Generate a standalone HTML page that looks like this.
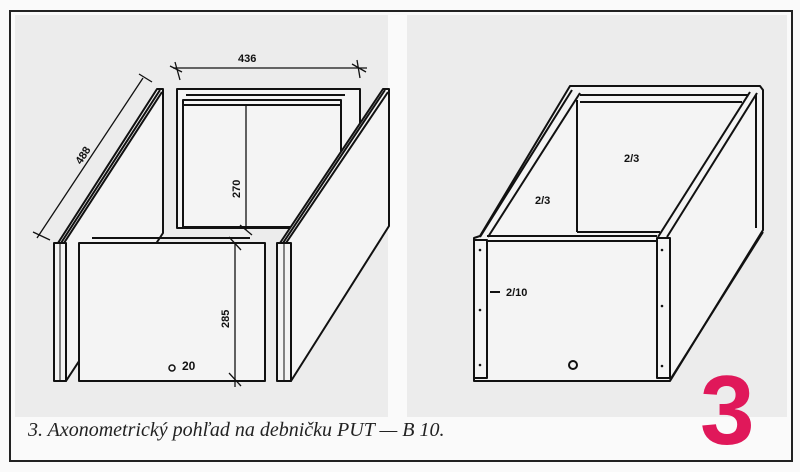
<!DOCTYPE html>
<html><head><meta charset="utf-8"><style>
html,body{margin:0;padding:0;background:#fff;width:800px;height:472px;overflow:hidden}
svg{display:block}
</style></head><body>
<svg width="800" height="472" viewBox="0 0 800 472" xmlns="http://www.w3.org/2000/svg">
<rect x="0" y="0" width="800" height="472" fill="#fafafa"/>
<rect x="15" y="15" width="373" height="402" fill="#ececec"/>
<rect x="407" y="15" width="380" height="402" fill="#ececec"/>
<rect x="10" y="11" width="782" height="450" fill="none" stroke="#222" stroke-width="2"/>
<g stroke="#111" fill="#f4f4f4" stroke-width="2" stroke-linejoin="round">
<polygon points="58,243 157,89 163,89 163,233 66,381 58,381" />
<line x1="64" y1="243" x2="162" y2="92"/>
<line x1="61" y1="243" x2="160" y2="90"/>
<rect x="54" y="243" width="12" height="138"/>
<line x1="60" y1="243" x2="60" y2="381" stroke-width="1"/>
<rect x="177" y="89" width="183" height="139"/>
<rect x="183" y="100" width="158" height="127"/>
<line x1="186" y1="95" x2="345" y2="95"/>
<line x1="183" y1="105" x2="341" y2="105"/>
<rect x="79" y="243" width="186" height="138"/>
<line x1="92" y1="238" x2="250" y2="238"/>
<polygon points="280,243 383,89 389,89 389,226 291,381 280,381"/>
<line x1="286" y1="243" x2="388" y2="92"/>
<line x1="283" y1="243" x2="385" y2="90"/>
<rect x="277" y="243" width="14" height="138"/>
<line x1="284" y1="243" x2="284" y2="381" stroke-width="1"/>
<polygon points="570,86 760,86 763,90 763,230 670,381 474,381 474,238 480,236" fill="#f4f4f4"/>
<line x1="577" y1="100" x2="577" y2="232"/>
<line x1="577" y1="232" x2="660" y2="232"/>
<line x1="580" y1="95" x2="748" y2="95"/>
<line x1="580" y1="102" x2="742" y2="102"/>
<line x1="480" y1="237" x2="572" y2="90"/>
<line x1="488" y1="237" x2="580" y2="93"/>
<line x1="658" y1="237" x2="750" y2="92"/>
<line x1="667" y1="237" x2="757" y2="93"/>
<line x1="487" y1="236" x2="657" y2="236"/>
<line x1="487" y1="241" x2="657" y2="241"/>
<rect x="474" y="240" width="13" height="138" fill="#f4f4f4"/>
<rect x="657" y="238" width="13" height="140" fill="#f4f4f4"/>
<line x1="670" y1="380" x2="763" y2="232"/>
<line x1="756" y1="95" x2="756" y2="228"/>
<line x1="474" y1="381" x2="670" y2="381"/>
</g>
<g stroke="#111" stroke-width="1.3" fill="none">
<line x1="173" y1="68" x2="367" y2="68"/>
<line x1="175" y1="62" x2="180" y2="80"/><line x1="170" y1="66" x2="182" y2="72"/>
<line x1="357" y1="60" x2="360" y2="78"/><line x1="352" y1="64" x2="366" y2="72"/>
<line x1="37" y1="238" x2="143" y2="78"/>
<line x1="33" y1="232" x2="50" y2="240"/><line x1="139" y1="74" x2="152" y2="82"/>
<line x1="246" y1="104" x2="246" y2="230"/>
<line x1="240" y1="225" x2="252" y2="235"/>
<line x1="235" y1="242" x2="235" y2="387"/>
<line x1="229" y1="237" x2="241" y2="250"/><line x1="229" y1="373" x2="241" y2="386"/>
<line x1="490" y1="292" x2="500" y2="292" stroke-width="2"/>
</g>
<g fill="#111" font-family="Liberation Sans, sans-serif" font-weight="bold" font-size="11">
<text x="238" y="62">436</text>
<text x="0" y="0" transform="translate(81,165) rotate(-57)">488</text>
<text x="0" y="0" transform="translate(240,198) rotate(-90)">270</text>
<text x="0" y="0" transform="translate(229,328) rotate(-90)">285</text>
<text x="182" y="370" font-size="12">20</text>
<text x="535" y="204">2/3</text>
<text x="624" y="162">2/3</text>
<text x="506" y="296">2/10</text>
</g>
<circle cx="172" cy="368" r="3" fill="none" stroke="#111" stroke-width="1.5"/>
<circle cx="573" cy="365" r="4" fill="none" stroke="#111" stroke-width="2"/>
<g fill="#111">
<circle cx="480" cy="250" r="1.3"/><circle cx="480" cy="310" r="1.3"/><circle cx="480" cy="365" r="1.3"/>
<circle cx="662" cy="250" r="1.3"/><circle cx="662" cy="306" r="1.3"/><circle cx="662" cy="366" r="1.3"/>
</g>
<text x="28" y="436" font-family="Liberation Serif, serif" font-style="italic" font-size="20" fill="#222">3.  Axonometrický pohľad na debničku PUT — B 10.</text>
<text x="700" y="444" font-family="Liberation Sans, sans-serif" font-weight="bold" font-size="98" fill="#e0185a">3</text>
</svg>
</body></html>
